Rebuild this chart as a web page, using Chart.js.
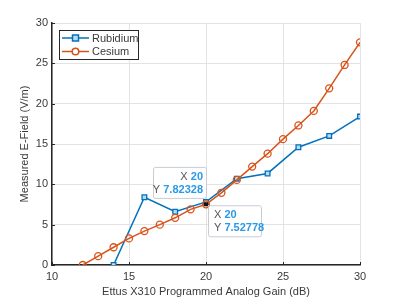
<!DOCTYPE html>
<html><head><meta charset="utf-8">
<script src="https://cdn.jsdelivr.net/npm/chart.js@4"></script>
<style>html,body{margin:0;padding:0;background:#fff}#c{display:block}</style>
</head><body>
<canvas id="c" width="398" height="299"></canvas>
<script>
const rubidiumX = [14, 16, 18, 20, 22, 24, 26, 28, 30];
const rubidiumY = [0, 8.4, 6.6, 7.82328, 10.7, 11.35, 14.6, 16.0, 18.4];
const cesiumX = [12, 13, 14, 15, 16, 17, 18, 19, 20, 21, 22, 23, 24, 25, 26, 27, 28, 29, 30];
const cesiumY = [0, 1.1, 2.2, 3.3, 4.2, 5.0, 5.85, 6.9, 7.52778, 8.95, 10.55, 12.2, 13.8, 15.6, 17.3, 19.1, 21.9, 24.8, 27.6];
const xTicks = [10, 15, 20, 25, 30];
const yTicks = [0, 5, 10, 15, 20, 25, 30];
const seriesNames = ['Rubidium', 'Cesium'];
const tips = [
  {series: 0, x: 20, y: 7.82328, label: ['20', '7.82328'], side: 'upleft'},
  {series: 1, x: 20, y: 7.52778, label: ['20', '7.52778'], side: 'downright'}
];
const BLUE = '#0072BD', ORANGE = '#D95319';
const FONT = 'Liberation Sans, Arial, Helvetica, sans-serif';
const TXT = '#3a3a3a';

const toPts = (xs, ys) => xs.map((x, i) => ({x, y: ys[i]}));

const overlay = {
  id: 'overlay',
  afterDraw(chart) {
    const ctx = chart.ctx, xs = chart.scales.x, ys = chart.scales.y, ca = chart.chartArea;
    ctx.save();
    // inward ticks
    ctx.strokeStyle = '#262626'; ctx.lineWidth = 1;
    xTicks.forEach(v => { const px = Math.round(xs.getPixelForValue(v)) + 0.5;
      ctx.beginPath(); ctx.moveTo(px, ca.bottom); ctx.lineTo(px, ca.bottom - 3); ctx.stroke(); });
    yTicks.forEach(v => { const py = Math.round(ys.getPixelForValue(v)) + 0.5;
      ctx.beginPath(); ctx.moveTo(ca.left, py); ctx.lineTo(ca.left + 3, py); ctx.stroke(); });
    // legend
    const lx = ca.left + 7, ly = ca.top + 7, lw = 79, lh = 29;
    ctx.fillStyle = '#fff'; ctx.fillRect(lx, ly, lw, lh);
    ctx.strokeStyle = '#262626'; ctx.lineWidth = 1;
    ctx.strokeRect(lx + 0.5, ly + 0.5, lw, lh);
    ctx.font = '11px ' + FONT; ctx.textBaseline = 'middle'; ctx.textAlign = 'left';
    [[BLUE, 'rect'], [ORANGE, 'circle']].forEach((s, i) => {
      const yy = ly + 8 + i * 13.5;
      ctx.strokeStyle = s[0]; ctx.lineWidth = 1.5;
      ctx.beginPath(); ctx.moveTo(lx + 3, yy); ctx.lineTo(lx + 30, yy); ctx.stroke();
      ctx.fillStyle = s[1] === 'rect' ? '#bcd9ee' : '#fff';
      ctx.beginPath();
      if (s[1] === 'rect') ctx.rect(lx + 13.5, yy - 3, 6, 6); else ctx.arc(lx + 16.5, yy, 3.3, 0, Math.PI * 2);
      ctx.fill(); ctx.stroke();
      ctx.fillStyle = TXT;
      ctx.fillText(seriesNames[i], lx + 33, yy + 0.5);
    });
    // datatips
    tips.forEach(t => {
      const px = xs.getPixelForValue(t.x), py = ys.getPixelForValue(t.y);
      const w = 53, h = 31;
      let bx, by;
      if (t.side === 'upleft') { bx = px - w; by = py - h - 4; } else { bx = px + 2; by = py + 1; }
      ctx.fillStyle = 'rgba(255,255,255,0.88)';
      ctx.strokeStyle = '#c8ccd4'; ctx.lineWidth = 1;
      ctx.beginPath(); ctx.roundRect(bx + 0.5, by + 0.5, w, h, 2); ctx.fill(); ctx.stroke();
      ctx.font = '11px ' + FONT; ctx.textBaseline = 'middle';
      const rows = [['X ', t.label[0]], ['Y ', t.label[1]]];
      rows.forEach((r, i) => {
        const yy = by + 10 + i * 13;
        ctx.font = '11px ' + FONT;
        const wl = ctx.measureText(r[0]).width;
        ctx.font = 'bold 11px ' + FONT;
        const wv = ctx.measureText(r[1]).width;
        let sx = t.side === 'upleft' ? bx + w - 3 - wl - wv : bx + 6;
        ctx.textAlign = 'left';
        ctx.font = '11px ' + FONT; ctx.fillStyle = '#555';
        ctx.fillText(r[0], sx, yy);
        ctx.font = 'bold 11px ' + FONT; ctx.fillStyle = '#2a9ae6';
        ctx.fillText(r[1], sx + wl, yy);
      });
    });
    // selected datapoint marker
    const t2 = tips[1];
    const mx = xs.getPixelForValue(t2.x), my = ys.getPixelForValue(t2.y);
    ctx.fillStyle = '#111'; ctx.fillRect(mx - 2, my - 2, 4, 4);
    ctx.restore();
  }
};

new Chart(document.getElementById('c'), {
  type: 'line',
  data: {
    datasets: [
      {label: seriesNames[0], data: toPts(rubidiumX, rubidiumY), borderColor: BLUE, backgroundColor: '#bcd9ee',
       borderWidth: 1.5, pointStyle: 'rect', pointRadius: 3.3, pointBorderWidth: 1.3, pointBorderColor: BLUE, order: 2},
      {label: seriesNames[1], data: toPts(cesiumX, cesiumY), borderColor: ORANGE, backgroundColor: 'rgba(0,0,0,0)',
       borderWidth: 1.5, pointStyle: 'circle', pointRadius: 3.5, pointBorderWidth: 1.3, pointBorderColor: ORANGE, order: 1}
    ]
  },
  options: {
    responsive: false, animation: false,
    layout: {padding: {left: 0, right: 38, top: 23, bottom: 0}},
    plugins: {legend: {display: false}, tooltip: {enabled: false}},
    scales: {
      x: {
        type: 'linear', min: 10, max: 30,
        afterBuildTicks: s => { s.ticks = xTicks.map(v => ({value: v})); },
        afterFit: s => { s.height = 34; },
        grid: {color: '#e3e3e3', lineWidth: 1, drawTicks: false},
        border: {display: true, color: '#262626', width: 1.5},
        ticks: {color: TXT, font: {size: 11, family: FONT}, padding: 5, maxRotation: 0},
        title: {display: true, text: 'Ettus X310 Programmed Analog Gain (dB)', color: TXT,
                font: {size: 11, family: FONT}, padding: {top: 0, bottom: 0}}
      },
      y: {
        min: 0, max: 30,
        afterBuildTicks: s => { s.ticks = yTicks.map(v => ({value: v})); },
        afterFit: s => { s.width = 52; },
        grid: {color: '#e3e3e3', lineWidth: 1, drawTicks: false},
        border: {display: true, color: '#262626', width: 1.5},
        ticks: {color: TXT, font: {size: 11, family: FONT}, padding: 4},
        title: {display: true, text: 'Measured E-Field (V/m)', color: TXT,
                font: {size: 11, family: FONT}, padding: {top: 18, bottom: 0}}
      }
    }
  },
  plugins: [overlay]
});
</script>
</body></html>
